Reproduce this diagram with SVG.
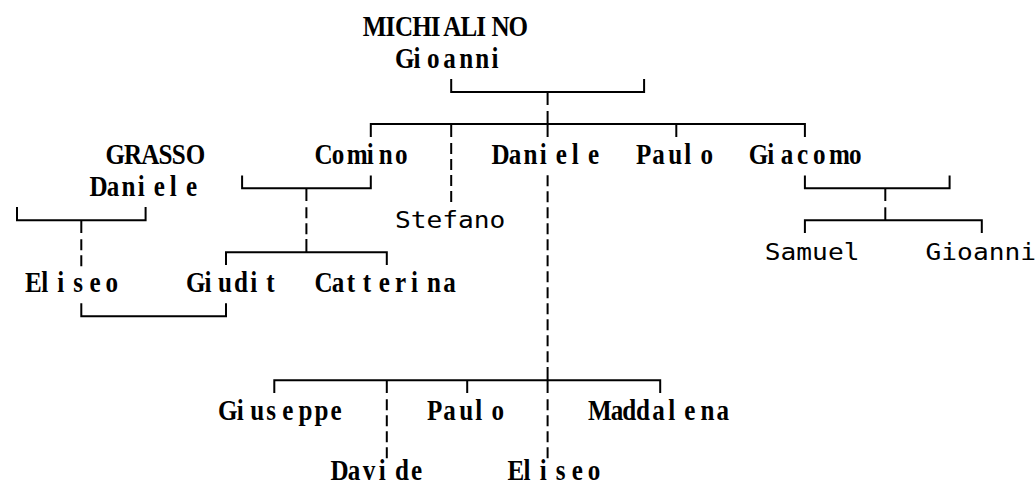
<svg xmlns="http://www.w3.org/2000/svg" width="1035" height="486" viewBox="0 0 1035 486">
<style>
.n text{font-family:"Liberation Serif",serif;font-weight:bold;font-size:28.5px;fill:#000}
.s text{font-family:"DejaVu Sans Mono",monospace;font-size:23px;fill:#000}
#connectors path{fill:none;stroke:#000;stroke-width:2}
#connectors .d{stroke-dasharray:11 5}
</style>
<rect width="1035" height="486" fill="#fff"/>
<g id="connectors">
<path d="M451.2 79V92.1H644.1V79"/>
<path d="M547.6 92.1V105"/>
<path d="M370.8 137V124.1H804.9V137"/>
<path d="M451.2 124.1V137"/>
<path d="M547.6 111V137"/>
<path d="M676.3 124.1V137"/>
<path class="d" d="M451.2 143V202"/>
<path class="d" d="M547.6 175.2V362.5"/>
<path d="M547.6 367V393"/>
<path d="M274.3 393V380.3H660.2V393"/>
<path d="M386.8 380.3V393"/>
<path d="M467.2 380.3V393"/>
<path class="d" d="M386.8 399.3V458.5"/>
<path class="d" d="M547.6 399.3V458.5"/>
<path d="M242.1 175.5V188.2H370.8V175.5"/>
<path d="M306.4 188.2V201"/>
<path class="d" d="M306.4 207.2V234.5"/>
<path d="M306.4 239V252.2"/>
<path d="M226 265V252.2H386.8V265"/>
<path d="M17 207V220.2H145.6V207"/>
<path d="M81.3 220.2V233"/>
<path class="d" d="M81.3 239.2V266.5"/>
<path d="M81.3 303.3V316.3H226V303.3"/>
<path d="M804.9 175.5V188.2H949.6V175.5"/>
<path d="M885.3 188.2V201"/>
<path d="M885.3 207.3V220.2"/>
<path d="M804.9 233V220.2H981.8V233"/>
</g>
<g id="gioanni-michialino" class="n">
<text transform="translate(362.76,36) scale(0.88,1)" x="0 25.9 36.55 56.13 77.3 91.36 110.94 128.94 146.18 165.76" y="0">MICHIALINO</text>
<text transform="translate(394.92,68) scale(0.88,1)" x="0 21.17 36.55 54.82 73.09 91.36 109.64" y="0">Gioanni</text>
</g>
<g id="daniele-grasso" class="n">
<text transform="translate(105.48,164.1) scale(0.88,1)" x="0 21.17 40.75 60.33 75.18 91.36" y="0">GRASSO</text>
<text transform="translate(89.4,196.2) scale(0.88,1)" x="0 19.58 36.55 54.82 73.09 91.36 109.64" y="0">Daniele</text>
</g>
<g id="comino" class="n"><text transform="translate(314.52,164.1) scale(0.88,1)" x="0 19.58 36.55 59.29 73.09 91.36" y="0">Comino</text></g>
<g id="daniele" class="n"><text transform="translate(491.4,164.1) scale(0.88,1)" x="0 19.58 36.55 54.82 73.09 91.36 109.64" y="0">Daniele</text></g>
<g id="paulo" class="n"><text transform="translate(636.12,164.1) scale(0.88,1)" x="0 18.27 36.55 54.82 73.09" y="0">Paulo</text></g>
<g id="giacomo" class="n"><text transform="translate(748.68,164.1) scale(0.88,1)" x="0 21.17 36.55 54.82 73.09 91.36 114.1" y="0">Giacomo</text></g>
<g id="stefano" class="s"><text transform="translate(394.92,228.2) scale(1.14,1)">Stefano</text></g>
<g id="samuel" class="s"><text transform="translate(764.76,260.2) scale(1.14,1)">Samuel</text></g>
<g id="gioanni-2" class="s"><text transform="translate(925.56,260.2) scale(1.14,1)">Gioanni</text></g>
<g id="eliseo" class="n"><text transform="translate(25.08,292.2) scale(0.88,1)" x="0 18.27 36.55 54.82 73.09 91.36" y="0">Eliseo</text></g>
<g id="giudit" class="n"><text transform="translate(185.88,292.2) scale(0.88,1)" x="0 21.17 36.55 54.82 73.09 91.36" y="0">Giudit</text></g>
<g id="catterina" class="n"><text transform="translate(314.52,292.2) scale(0.88,1)" x="0 19.58 36.55 54.82 73.09 91.36 109.64 127.91 146.18" y="0">Catterina</text></g>
<g id="giuseppe" class="n"><text transform="translate(218.04,420.4) scale(0.88,1)" x="0 21.17 36.55 54.82 73.09 91.36 109.64 127.91" y="0">Giuseppe</text></g>
<g id="paulo-2" class="n"><text transform="translate(427.08,420.4) scale(0.88,1)" x="0 18.27 36.55 54.82 73.09" y="0">Paulo</text></g>
<g id="maddalena" class="n"><text transform="translate(587.88,420.4) scale(0.88,1)" x="0 25.9 39.15 54.82 73.09 91.36 109.64 127.91 146.18" y="0">Maddalena</text></g>
<g id="davide" class="n"><text transform="translate(330.6,479.6) scale(0.88,1)" x="0 19.58 36.55 54.82 73.09 91.36" y="0">Davide</text></g>
<g id="eliseo-2" class="n"><text transform="translate(507.48,479.6) scale(0.88,1)" x="0 18.27 36.55 54.82 73.09 91.36" y="0">Eliseo</text></g>
</svg>
